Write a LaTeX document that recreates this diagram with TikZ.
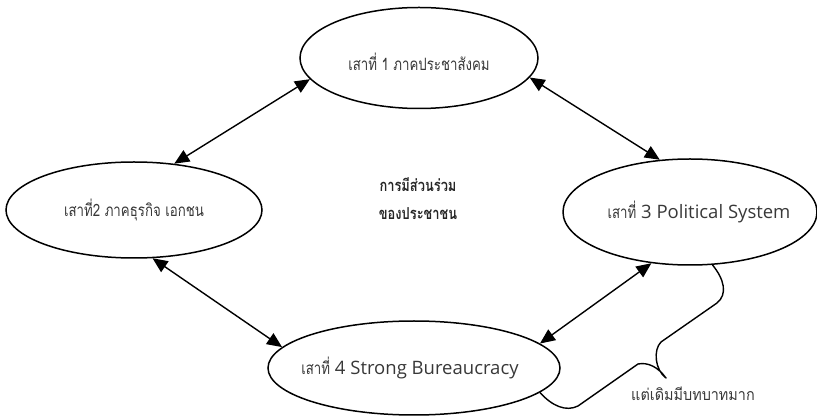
\documentclass[tikz,border=0pt]{standalone}
\usepackage{fontspec}
\setmainfont{Open Sans}
\newfontfamily\thaifont[Script=Thai,FakeStretch=0.78]{Loma}
\newfontfamily\thainote[Script=Thai,FakeStretch=0.9]{Loma}
\usetikzlibrary{shapes.geometric,arrows.meta}
\begin{document}
\begin{tikzpicture}[x=1pt,y=-1pt,
  pillar/.style={ellipse,draw,line width=1.5pt,inner sep=0pt},
  label/.style={inner sep=0pt,text=black!78},
  thaitext/.style={font=\thaifont\fontsize{17}{20}\selectfont},
  mixtext/.style={font=\fontsize{18.5}{20}\selectfont},
  link/.style={line width=1.4pt,{Triangle[length=15pt,width=13pt]}-{Triangle[length=15pt,width=13pt]}},
  callout/.style={line width=1.4pt,line join=round}]
\useasboundingbox (0,0) rectangle (817,419);

% four pillars (outline first, caption on top)
\node[pillar,minimum width=238pt,minimum height=101pt] (e1) at (419,58) {};
\node[pillar,minimum width=256pt,minimum height=96pt] (e2) at (134,210) {};
\node[pillar,minimum width=254pt,minimum height=106pt] (e3) at (690,212) {};
\node[pillar,minimum width=292pt,minimum height=94pt] (e4) at (414,368) {};

\node[label,thaitext] (t1) at ([yshift=-4pt]e1.center) {เสาที่ 1 ภาคประชาสังคม};
\node[label,thaitext] (t2) at ([xshift=0pt]e2.center) {เสาที่2 ภาคธุรกิจ เอกชน};
\node[label,mixtext] (t3) at ([xshift=9pt]e3.center)
  {{\thaifont\fontsize{17}{20}\selectfont เสาที่} 3 Political System};
\node[label,mixtext] (t4) at ([xshift=-4pt]e4.center)
  {{\thaifont\fontsize{17}{20}\selectfont เสาที่} 4 Strong Bureaucracy};

% centre caption
\node[align=center,text=black!85,font=\thaifont\bfseries\fontsize{16.5}{28}\selectfont] (mid) at (418,199)
  {การมีส่วนร่วม\\ของประชาชน};

% two-way links
\draw[link] (e1.191.6) -- (e2.49);
\draw[link] (e1.350) -- (e3.120);
\draw[link] (e2.291) -- (e4.171);
\draw[link] (e3.233) -- (e4.11);

% speech-bubble brace between pillars 3 and 4
\coordinate (b0) at (e3.-67);
\coordinate (b9) at (e4.-11);
\draw[callout] (b0) .. controls (724,279) and (728,294) .. (717,303)
  -- (661,342) .. controls (653,350) and (655,370) .. (666,378)
  .. controls (658,367) and (648,362) .. (638,364)
  -- (578,406) .. controls (566,412) and (552,406) .. (b9);
\node[text=black!78,font=\thainote\fontsize{16}{18}\selectfont] (note) at (693,394) {แต่เดิมมีบทบาทมาก};
\end{tikzpicture}
\end{document}
